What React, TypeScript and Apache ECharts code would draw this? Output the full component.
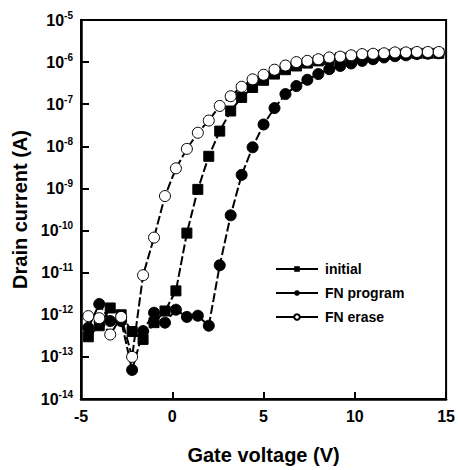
import React, { useEffect, useRef } from "react";
import * as echarts from "echarts";

const gateVoltage = [
  -4.6, -4.0, -3.4, -2.8, -2.2, -1.6, -1.0, -0.4, 0.2, 0.8, 1.4, 2.0, 2.6, 3.2,
  3.8, 4.4, 5.0, 5.6, 6.2, 6.8, 7.4, 8.0, 8.6, 9.2, 9.8, 10.4, 11.0, 11.6, 12.2,
  12.8, 13.4, 14.0, 14.6,
];

const initialCurrent = [
  3.0e-13, 5.5e-13, 1.45e-12, 1.0e-12, 4.0e-13, 2.6e-13, 6.5e-13, 1.23e-12,
  3.7e-12, 8.7e-11, 9.5e-10, 5.8e-9, 2.3e-8, 6.9e-8, 1.45e-7, 2.5e-7, 3.7e-7,
  5.2e-7, 6.6e-7, 8.1e-7, 9.5e-7, 1.07e-6, 1.15e-6, 1.26e-6, 1.32e-6, 1.38e-6,
  1.45e-6, 1.51e-6, 1.55e-6, 1.58e-6, 1.62e-6, 1.62e-6, 1.62e-6,
];

const programCurrent = [
  4.9e-13, 1.8e-12, 7.1e-13, 7.1e-13, 4.9e-14, 4.1e-13, 1.12e-12, 6.5e-13,
  1.32e-12, 8.9e-13, 9.5e-13, 5.5e-13, 1.5e-11, 2.3e-10, 2.1e-9, 9.5e-9, 3.3e-8,
  8.1e-8, 1.74e-7, 2.7e-7, 3.8e-7, 5.2e-7, 6.8e-7, 8.1e-7, 9.3e-7, 1.07e-6,
  1.17e-6, 1.29e-6, 1.38e-6, 1.45e-6, 1.55e-6, 1.58e-6, 1.62e-6,
];

const eraseCurrent = [
  9.3e-13, 8.3e-13, 3.4e-13, 8.9e-13, 1.0e-13, 8.7e-12, 6.8e-11, 6.6e-10, 3.0e-9,
  8.7e-9, 2.1e-8, 4.1e-8, 9.1e-8, 1.55e-7, 2.6e-7, 3.9e-7, 5.0e-7, 6.6e-7, 8.3e-7,
  1.0e-6, 1.07e-6, 1.17e-6, 1.29e-6, 1.35e-6, 1.45e-6, 1.55e-6, 1.58e-6, 1.62e-6,
  1.7e-6, 1.7e-6, 1.74e-6, 1.74e-6, 1.74e-6,
];

const seriesNames = ["initial", "FN program", "FN erase"];

const FONT = "'Liberation Sans', Arial, sans-serif";

function pairs(ys: number[]) {
  return gateVoltage.map((x, i) => [x, ys[i]]);
}

export default function App() {
  const ref = useRef<HTMLDivElement>(null);
  useEffect(() => {
    if (!ref.current) return;
    const chart = echarts.init(ref.current, undefined, { renderer: "svg" });
    const lineStyle = { color: "#000", width: 2, type: [9, 3] as any };
    chart.setOption({
      animation: false,
      backgroundColor: "#fff",
      grid: {
        left: 81,
        top: 20,
        right: 9,
        bottom: 62,
        show: true,
        borderColor: "#000",
        borderWidth: 2,
        backgroundColor: "transparent",
      },
      legend: {
        orient: "vertical",
        left: 270,
        top: 257,
        itemWidth: 42,
        itemHeight: 7,
        itemGap: 10,
        data: seriesNames,
        lineStyle: { type: "solid", width: 2 },
        textStyle: {
          fontFamily: FONT,
          fontWeight: "bold",
          fontSize: 14,
          color: "#000",
          padding: [0, 0, 0, 2],
        },
      },
      xAxis: {
        type: "value",
        min: -5,
        max: 15,
        interval: 5,
        name: "Gate voltage (V)",
        nameLocation: "middle",
        nameGap: 46,
        nameTextStyle: {
          fontFamily: FONT,
          fontWeight: "bold",
          fontSize: 20,
          color: "#000",
        },
        axisLine: { onZero: false, lineStyle: { color: "#000", width: 2.5 } },
        axisTick: { inside: true, length: 7, lineStyle: { color: "#000", width: 2 } },
        splitLine: { show: false },
        axisLabel: {
          margin: 9,
          fontFamily: FONT,
          fontWeight: "bold",
          fontSize: 16,
          color: "#000",
        },
      },
      yAxis: {
        type: "log",
        logBase: 10,
        min: 1e-14,
        max: 1e-5,
        name: "Drain current (A)",
        nameLocation: "middle",
        nameGap: 50,
        nameTextStyle: {
          fontFamily: FONT,
          fontWeight: "bold",
          fontSize: 20,
          color: "#000",
        },
        axisLine: { onZero: false, lineStyle: { color: "#000", width: 2.5 } },
        axisTick: { inside: true, length: 8, lineStyle: { color: "#000", width: 2 } },
        splitLine: { show: false },
        minorTick: { show: false },
        axisLabel: {
          margin: 8,
          fontFamily: FONT,
          fontWeight: "bold",
          fontSize: 16,
          color: "#000",
          formatter: (v: number) => {
            const e = Math.round(Math.log10(v));
            return "10{sup|" + e + "}";
          },
          rich: {
            sup: {
              fontFamily: FONT,
              fontWeight: "bold",
              fontSize: 10,
              color: "#000",
              padding: [0, 0, 10, 0],
            },
          },
        },
      },
      series: [
        {
          name: seriesNames[0],
          type: "line",
          data: pairs(initialCurrent),
          symbol: "rect",
          symbolSize: 10,
          itemStyle: { color: "#000", borderColor: "#000" },
          lineStyle,
          z: 2,
        },
        {
          name: seriesNames[1],
          type: "line",
          data: pairs(programCurrent),
          symbol: "circle",
          symbolSize: 11,
          itemStyle: { color: "#000", borderColor: "#000" },
          lineStyle,
          z: 3,
        },
        {
          name: seriesNames[2],
          type: "line",
          data: pairs(eraseCurrent),
          symbol: "circle",
          symbolSize: 11,
          itemStyle: { color: "#fff", borderColor: "#000", borderWidth: 1 },
          lineStyle,
          z: 4,
        },
      ],
    });
    return () => chart.dispose();
  }, []);
  return (
    <div
      ref={ref}
      style={{ position: "fixed", left: 0, top: 0, width: 458, height: 470 }}
    />
  );
}
